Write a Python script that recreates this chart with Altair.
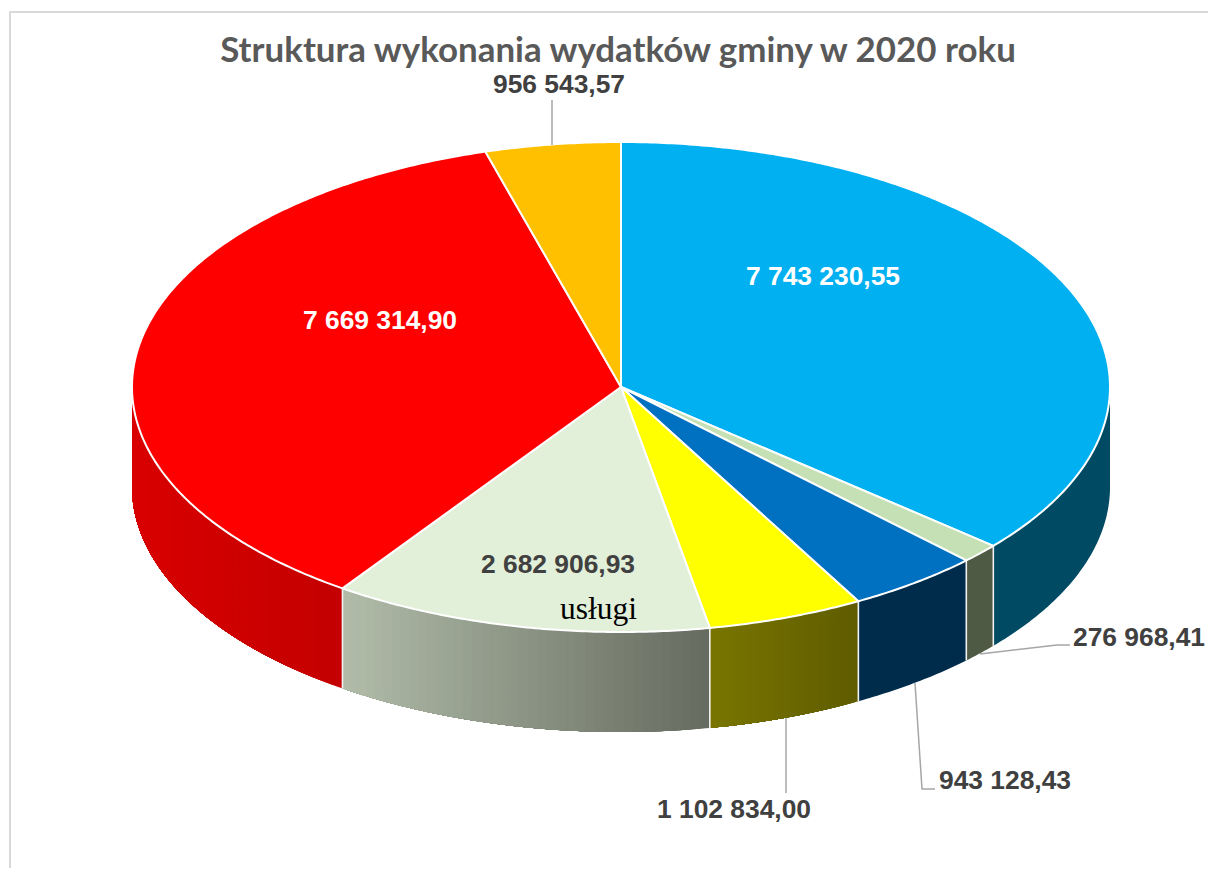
import math
import altair as alt

# ---- data ----
values = [7743230.55, 276968.41, 943128.43, 1102834.00, 2682906.93, 7669314.90, 956543.57]
value_labels = ["7 743 230,55", "276 968,41", "943 128,43", "1 102 834,00",
                "2 682 906,93", "7 669 314,90", "956 543,57"]
top_colors = ["#00b0f0", "#c5e0b4", "#0070c0", "#ffff00", "#e2efd9", "#ff0000", "#ffc000"]
side_left = ["#004a63", "#4f5a45", "#002c4c", "#7a7600", "#b2bdaa", "#d90000", "#ffc000"]
side_right = ["#004a63", "#4f5a45", "#002c4c", "#5f5c00", "#666c60", "#c40000", "#ffc000"]
title_text = "Struktura wykonania wydatków gminy w 2020 roku"
category_note = "usługi"

# ---- layout (image pixels) ----
CX, CY, RX, RY, DEPTH = 621, 387, 489, 245, 100
label_pos = [(823, 277), (1139, 638), (1005, 781), (734, 810), (558, 565), (380, 321), (559, 85)]
label_color = ["#ffffff", "#404040", "#404040", "#404040", "#404040", "#ffffff", "#404040"]
leaders = [
    [(552, 100), (552, 145)],
    [(980, 654), (1057, 645), (1070, 645)],
    [(915, 683), (922, 789), (935, 789)],
    [(786, 718), (786, 793)],
]
frame = [(10, 879), (10, 12), (1216, 12)]


def rim(angle, drop=0.0):
    a = math.radians(angle)
    return [CX + RX * math.sin(a), CY - RY * math.cos(a) + drop]


def feature(coords, kind="Polygon", **props):
    coordinates = [coords] if kind == "Polygon" else coords
    return {"type": "Feature", "properties": props,
            "geometry": {"type": kind, "coordinates": coordinates}}


def lerp_hex(c0, c1, t):
    p0 = [int(c0[i:i + 2], 16) for i in (1, 3, 5)]
    p1 = [int(c1[i:i + 2], 16) for i in (1, 3, 5)]
    return "#" + "".join(f"{round(a + (b - a) * t):02x}" for a, b in zip(p0, p1))


def band(a_from, a_to):
    """Closed side wall between two rim angles."""
    n = max(2, int(abs(a_to - a_from) * 2))
    upper = [rim(a_from + (a_to - a_from) * k / n) for k in range(n + 1)]
    lower = [rim(a_from + (a_to - a_from) * k / n, DEPTH) for k in range(n, -1, -1)]
    return upper + lower + [upper[0]]


total = sum(values)
edges = [0.0]
for v in values:
    edges.append(edges[-1] + 360.0 * v / total)

top_features, side_features, sep_features = [], [], []
for i, col in enumerate(top_colors):
    a0, a1 = edges[i], edges[i + 1]
    n = max(2, int((a1 - a0) * 2))
    arc = [rim(a0 + (a1 - a0) * k / n) for k in range(n + 1)]
    ring = [[CX, CY]] + arc + [[CX, CY]]
    top_features.append(feature(ring, fill=col))

    s0, s1 = max(a0, 90.0), min(a1, 270.0)
    if s1 > s0:
        if side_left[i] == side_right[i]:
            side_features.append(feature(band(s0, s1), fill=side_left[i]))
        else:
            # painted from the right-hand end leftwards: each wall reaches the
            # slice's left end, and the next one covers it, so no seams show
            xr, xl = rim(s0)[0], rim(s1)[0]
            m = 40
            for k in range(m):
                b0 = s0 + (s1 - s0) * k / m
                t = (rim(b0)[0] - xl) / (xr - xl)
                side_features.append(feature(band(b0, s1),
                                             fill=lerp_hex(side_left[i], side_right[i], t)))
    if 90.0 < a1 < 270.0:
        sep_features.append(feature([rim(a1), rim(a1, DEPTH)], "LineString"))

projection = alt.Projection(type="identity", scale=1, translate=[-8, -8])


def geo(features):
    return alt.Chart(alt.Data(values=features))


frame_layer = geo([feature([list(p) for p in frame], "LineString")]).mark_geoshape(
    filled=False, stroke="#d9d9d9", strokeWidth=2)

side_layer = geo(side_features).mark_geoshape(strokeWidth=0).encode(
    fill=alt.Color("properties.fill:N", scale=None, legend=None))

sep_layer = geo(sep_features).mark_geoshape(filled=False, stroke="#f2f2f2", strokeWidth=1.6)

top_layer = geo(top_features).mark_geoshape(stroke="#ffffff", strokeWidth=2, strokeJoin="round").encode(
    fill=alt.Color("properties.fill:N", scale=None, legend=None))

leader_layer = geo([feature([list(p) for p in l], "LineString") for l in leaders]).mark_geoshape(
    filled=False, stroke="#a6a6a6", strokeWidth=1.5)

label_rows = [{"lon": p[0], "lat": p[1], "text": t, "color": c}
              for p, t, c in zip(label_pos, value_labels, label_color)]
label_layer = alt.Chart(alt.Data(values=label_rows)).mark_text(
    font="Liberation Sans", fontWeight="bold", fontSize=26.4, baseline="middle", align="center"
).encode(longitude="lon:Q", latitude="lat:Q", text="text:N",
         color=alt.Color("color:N", scale=None, legend=None))

note_layer = alt.Chart(alt.Data(values=[{"lon": 598.5, "lat": 610, "text": category_note}])).mark_text(
    font="Liberation Serif", fontSize=31.5, baseline="middle", align="center", color="#000000"
).encode(longitude="lon:Q", latitude="lat:Q", text="text:N")

chart = alt.layer(
    frame_layer, side_layer, sep_layer, top_layer, leader_layer, label_layer, note_layer
).properties(
    width=1200, height=860, padding=0, autosize=alt.AutoSizeParams(type="none"),
    projection=projection, background="#ffffff",
    title=alt.TitleParams(title_text, font="Lato", fontWeight="bold", fontSize=34.9, color="#595959",
                          anchor="middle", baseline="middle", offset=0, dx=10, dy=79),
).configure_view(stroke=None)

chart.save("out.html", embed_options={"renderer": "svg", "actions": False})
